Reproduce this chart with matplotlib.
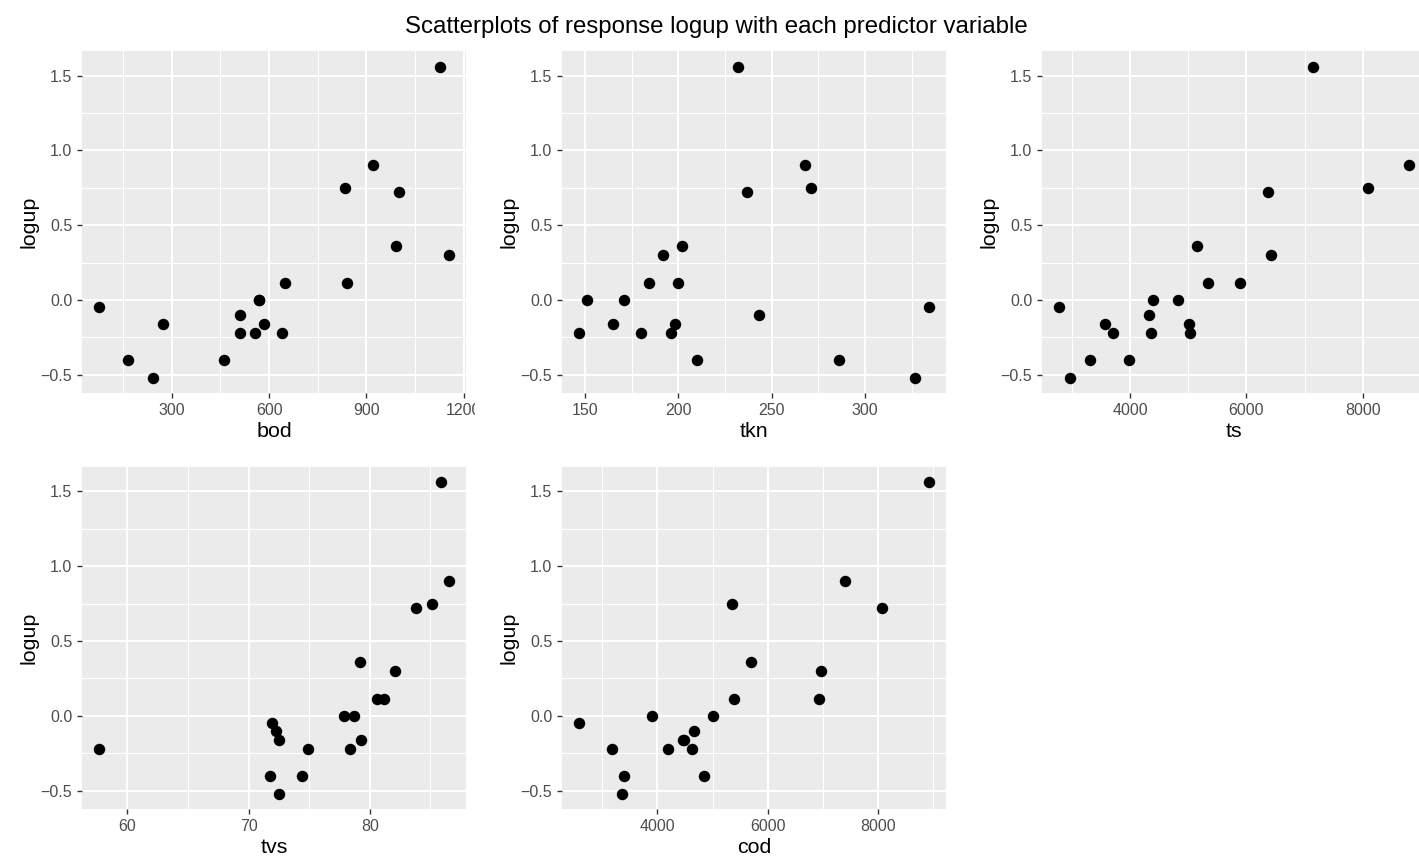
import matplotlib
matplotlib.use("Agg")
import matplotlib.pyplot as plt
import numpy as np
from matplotlib.transforms import Bbox, TransformedBbox

plt.rcParams['font.family'] = ['Liberation Sans', 'DejaVu Sans']

logup = [1.56, 0.90, 0.75, 0.72, 0.36, 0.30, 0.11, 0.11, 0.0, 0.0,
         -0.05, -0.10, -0.16, -0.16, -0.22, -0.22, -0.22, -0.40, -0.40, -0.52]
bod = [1128, 921, 835, 1001, 990, 1153, 649, 839, 570, 570,
       77, 510, 274, 583, 510, 555, 640, 165, 461, 243]
tkn = [232, 268, 271, 237, 202, 192, 184, 200, 151, 171,
       334, 243, 165, 198, 147, 180, 196, 210, 286, 327]
ts = [7145, 8792, 8086, 6364, 5148, 6428, 5331, 5888, 4385, 4821,
      2778, 4316, 3558, 5010, 3707, 4356, 5033, 3306, 3971, 2967]
tvs = [85.9, 86.5, 85.1, 83.8, 79.2, 82.1, 80.6, 81.2, 77.9, 78.7,
       71.9, 72.3, 72.5, 79.3, 57.7, 74.9, 78.4, 71.8, 74.4, 72.5]
cod = [8911, 7391, 5351, 8060, 5689, 6956, 5394, 6932, 3897, 5002,
       2588, 4658, 4455, 4478, 3173, 4199, 4633, 3403, 4839, 3355]

predictors = ["bod", "tkn", "ts", "tvs", "cod"]
xdata = {"bod": bod, "tkn": tkn, "ts": ts, "tvs": tvs, "cod": cod}
xticks = {"bod": [300, 600, 900, 1200], "tkn": [150, 200, 250, 300],
          "ts": [4000, 6000, 8000], "tvs": [60, 70, 80], "cod": [4000, 6000, 8000]}
yticks = [-0.5, 0.0, 0.5, 1.0, 1.5]
title = "Scatterplots of response logup with each predictor variable"

W, H = 1419, 858
fig = plt.figure(figsize=(W / 100, H / 100), dpi=100)
fig.patch.set_facecolor("white")

lefts = [82, 562, 1042]
pw = 384
rows = [(51, 393.3), (466.7, 809.3)]

def expand(vals):
    lo, hi = min(vals), max(vals)
    r = hi - lo
    return lo - 0.05 * r, hi + 0.05 * r

for i, name in enumerate(predictors):
    r, c = divmod(i, 3)
    top, bot = rows[r]
    l = lefts[c]
    ax = fig.add_axes([l / W, 1 - bot / H, pw / W, (bot - top) / H])
    ax.set_facecolor("#EBEBEB")
    for s in ax.spines.values():
        s.set_visible(False)
    xt = xticks[name]
    step = xt[1] - xt[0]
    ax.set_xticks(xt)
    ax.set_xticklabels([str(v) for v in xt])
    minors = [xt[0] - step / 2] + [v + step / 2 for v in xt]
    ax.set_xticks(minors, minor=True)
    ax.set_yticks(yticks)
    ax.set_yticklabels(["\u22120.5", "0.0", "0.5", "1.0", "1.5"])
    ax.set_yticks([-0.25, 0.25, 0.75, 1.25], minor=True)
    ax.set_xlim(*expand(xdata[name]))
    ax.set_ylim(*expand(logup))
    ax.grid(which="major", color="white", linewidth=1.5)
    ax.grid(which="minor", color="white", linewidth=0.75)
    ax.set_axisbelow(True)
    ax.tick_params(which="major", direction="out", length=3.6, width=1.0,
                   color="#333333", labelcolor="#4D4D4D", labelsize=11.5, pad=3.5)
    ax.tick_params(which="minor", length=0)
    ax.scatter(xdata[name], logup, s=68, color="black", zorder=3, linewidths=0)
    ax.set_xlabel(name, fontsize=15.4, color="black", labelpad=2.5)
    ax.set_ylabel("logup", fontsize=15.4, color="black", labelpad=1.5)

fig.text(716 / W, 1 - 27 / H, title, ha="center", va="center", fontsize=17.3, color="black")

fig.canvas.draw()
ax0 = fig.axes[0]
clip = TransformedBbox(Bbox([[0, 0], [475 / W, 1]]), fig.transFigure)
for t in ax0.xaxis.get_major_ticks():
    t.label1.set_clip_box(clip)
    t.label1.set_clip_on(True)

fig.savefig("out.png", dpi=100, facecolor="white")
